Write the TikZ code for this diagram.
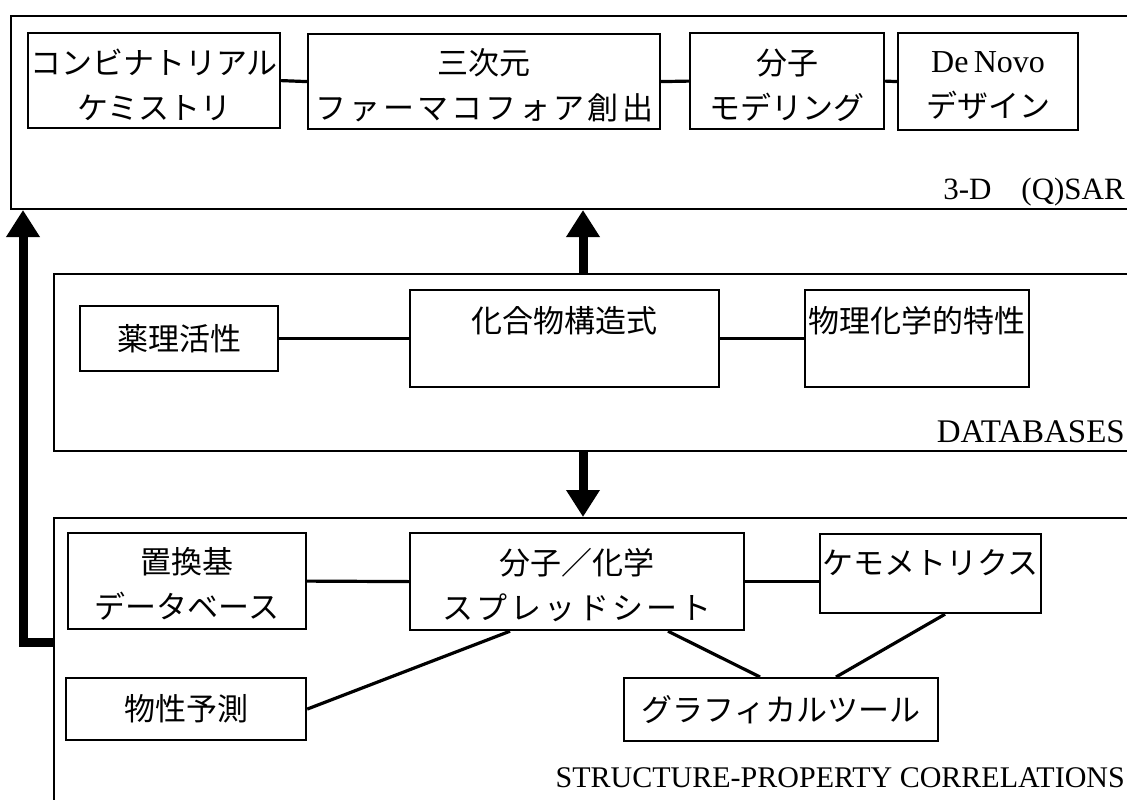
\documentclass[tikz,border=0pt]{standalone}
\usepackage{fontspec}
\setmainfont{Liberation Serif}
\newfontfamily\jp{Noto Sans CJK JP}
\newfontfamily\jpwide[LetterSpace=10]{Noto Sans CJK JP}
\usetikzlibrary{arrows.meta}
\begin{document}
\begin{tikzpicture}[x=1pt,y=-1pt,
  frame/.style={draw, line width=2pt, inner sep=0pt, anchor=north west},
  box/.style={draw, line width=2.2pt, inner sep=0pt, anchor=north west, align=center,
    font=\jp\fontsize{31}{45}\selectfont},
  jptext/.style={inner sep=0pt, align=center, font=\jp\fontsize{31}{45}\selectfont},
  link/.style={line width=3.2pt},
  bigarrow/.style={line width=9pt, -{Triangle[width=32pt,length=27pt]}},
  grouptitle/.style={anchor=base east, inner sep=0pt, font=\fontsize{31}{31}\selectfont},
]
\useasboundingbox (0,0) rectangle (1127,800);
\clip (0,0) rectangle (1127,800);
\fill[white] (0,0) rectangle (1127,800);

% group frames
\node[frame, minimum width=1140pt, minimum height=193pt] (sar) at (10,15) {};
\node[frame, minimum width=1100pt, minimum height=177pt] (db) at (53,273) {};
\node[frame, minimum width=1100pt, minimum height=320pt] (spc) at (53,517) {};

% 3-D (Q)SAR row
\node[box, minimum width=252pt, minimum height=95pt] (a1) at (27,32) {};
\node[jptext] (a1t) at ([yshift=-4pt]a1.center) {コンビナトリアル\\ケミストリ};
\node[box, minimum width=352pt, minimum height=95pt] (a2) at (307,33) {};
\node[jptext] (a2t) at ([yshift=-4pt]a2.center) {三次元\\{\jpwide ファーマコフォア創出}};
\node[box, minimum width=194pt, minimum height=96pt] (a3) at (689,32) {};
\node[jptext] (a3t) at ([yshift=-4pt]a3.center) {分子\\モデリング};
\node[box, minimum width=180pt, minimum height=97pt] (a4) at (897,32) {};
\node[jptext] (a4t) at ([yshift=-4pt]a4.center) {{\rmfamily\fontsize{32}{45}\selectfont De\,Novo}\\デザイン};
\draw[link] (a1.east) -- (a2.west);
\draw[link] (a2.east) -- (a3.west);
\draw[link] (a3.east) -- (a4.west);
\node[grouptitle] (sart) at (1125,199) {3-D\hspace{30pt}(Q)SAR};

% DATABASES row
\node[box, minimum width=198pt, minimum height=65pt] (d1) at (79,305) {薬理活性};
\node[box, minimum width=309pt, minimum height=97pt] (d2) at (409,289) {};
\node[jptext] (d2t) at ([yshift=-32pt]d2.north) {化合物構造式};
\node[box, minimum width=224pt, minimum height=97pt] (d3) at (804,289) {};
\node[jptext] (d3t) at ([yshift=-32pt]d3.north) {物理化学的特性};
\draw[link] (d1.east) -- (d2.west);
\draw[link] (d2.east) -- (d3.west);
\node[grouptitle, font=\fontsize{33}{33}\selectfont] (dbt) at (1125,442) {DATABASES};

% STRUCTURE-PROPERTY row
\node[box, minimum width=238pt, minimum height=96pt] (s1) at (67,532) {};
\node[jptext] (s1t) at ([yshift=-3pt]s1.center) {置換基\\データベース};
\node[box, minimum width=334pt, minimum height=97pt] (s2) at (409,532) {};
\node[jptext] (s2t) at ([yshift=-3pt]s2.center) {分子／化学\\{\jpwide スプレッドシート}};
\node[box, minimum width=221pt, minimum height=79pt] (s3) at (819,533) {};
\node[jptext] (s3t) at ([yshift=-30pt]s3.north) {ケモメトリクス};
\node[box, minimum width=240pt, minimum height=62pt] (s4) at (65,677) {物性予測};
\node[box, minimum width=314pt, minimum height=63pt] (s5) at (623,677) {グラフィカルツール};
\draw[link] (s1.east) -- (s2.west);
\draw[link] (s2.east) -- (s2.east -| s3.west);
\draw[link] (s4.east) -- ([xshift=101pt]s2.south west);
\draw[link] ([xshift=259pt]s2.south west) -- ([xshift=137pt]s5.north west);
\draw[link] ([xshift=126pt]s3.south west) -- ([xshift=213pt]s5.north west);
\node[grouptitle, font=\fontsize{30}{30}\selectfont] (spct) at (1125,787) {STRUCTURE-PROPERTY CORRELATIONS};

% big arrows
\coordinate (ua) at (583,0);
\draw[bigarrow] (ua |- db.north) -- (ua |- sar.south);
\draw[bigarrow] (ua |- db.south) -- (ua |- spc.north);
\coordinate (la) at (23,642);
\draw[bigarrow, line join=miter] (la -| spc.west) -- (la) -- (la |- sar.south);
\end{tikzpicture}
\end{document}
